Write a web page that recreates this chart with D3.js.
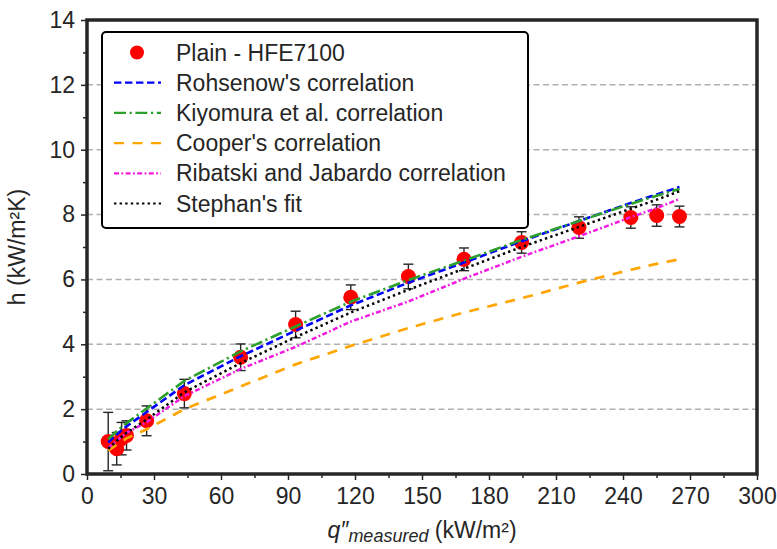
<!DOCTYPE html>
<html>
<head>
<meta charset="utf-8">
<script src="https://cdn.jsdelivr.net/npm/d3@7/dist/d3.min.js"></script>
<style>
  body { margin: 0; background: #fff; }
  text { font-family: "Liberation Sans", Arial, sans-serif; fill: #262626; }
</style>
</head>
<body>
<div id="chart"></div>
<script>
// measured heat flux (kW/m2) and heat transfer coefficient (kW/m2K)
const heatFlux = [9.5, 13.3, 15.5, 17.7, 26.7, 43.6, 68.8, 93.4, 118.1, 143.9, 168.8, 194.6, 220.3, 243.5, 255.1, 265.3];
const hMeasured = [1.0, 0.78, 1.09, 1.19, 1.64, 2.48, 3.6, 4.61, 5.45, 6.09, 6.62, 7.14, 7.6, 7.91, 7.97, 7.94];
const hError = [0.9, 0.5, 0.5, 0.45, 0.46, 0.44, 0.41, 0.41, 0.38, 0.38, 0.35, 0.33, 0.33, 0.33, 0.33, 0.32];

// correlations read at the same heat fluxes
const rohsenow = [0.97, 1.22, 1.35, 1.47, 1.91, 2.74, 3.63, 4.42, 5.2, 5.9, 6.52, 7.18, 7.8, 8.36, 8.62, 8.85];
const kiyomura = [1.07, 1.32, 1.45, 1.57, 2.02, 2.87, 3.78, 4.55, 5.31, 5.98, 6.58, 7.22, 7.8, 8.33, 8.58, 8.79];
const cooper = [0.72, 0.9, 1.0, 1.1, 1.38, 2.0, 2.7, 3.38, 3.95, 4.5, 4.98, 5.42, 5.9, 6.3, 6.48, 6.62];
const ribatski = [0.8, 1.03, 1.15, 1.27, 1.6, 2.4, 3.24, 3.92, 4.7, 5.32, 6.02, 6.7, 7.33, 7.92, 8.2, 8.48];
const stephan = [0.78, 1.02, 1.15, 1.27, 1.68, 2.52, 3.42, 4.22, 4.98, 5.68, 6.33, 7.0, 7.62, 8.18, 8.46, 8.72];

const xTicks = [0, 30, 60, 90, 120, 150, 180, 210, 240, 270, 300];
const yTicks = [0, 2, 4, 6, 8, 10, 12, 14];
const gridValues = [2, 4, 6, 8, 10, 12];

const width = 777, height = 549;
const margin = {top: 20, right: 20, bottom: 75, left: 87};
const w = width - margin.left - margin.right;
const h = height - margin.top - margin.bottom;

const svg = d3.select("#chart")
  .append("svg")
  .attr("width", width)
  .attr("height", height)
  .append("g")
  .attr("transform", `translate(${margin.left},${margin.top})`);

const x = d3.scaleLinear().domain([0, 300]).range([0, w]);
const y = d3.scaleLinear().domain([0, 14]).range([h, 0]);

// grid
svg.selectAll(".grid")
  .data(gridValues)
  .enter().append("line")
  .attr("x1", 0).attr("x2", w)
  .attr("y1", d => y(d)).attr("y2", d => y(d))
  .attr("stroke", "#b0b0b0")
  .attr("stroke-width", 1.5)
  .attr("stroke-dasharray", "6,3.5");

// axes
const xAxis = svg.append("g")
  .attr("transform", `translate(0,${h})`)
  .call(d3.axisBottom(x).tickValues(xTicks).tickSize(6).tickPadding(8));
const xMinor = svg.append("g")
  .attr("transform", `translate(0,${h})`)
  .call(d3.axisBottom(x).tickValues(d3.range(15, 300, 30)).tickSize(4).tickFormat(""));
const yAxis = svg.append("g")
  .call(d3.axisLeft(y).tickValues(yTicks).tickSize(6).tickPadding(6));
const yMinor = svg.append("g")
  .call(d3.axisLeft(y).tickValues(d3.range(1, 14, 2)).tickSize(4).tickFormat(""));

[xAxis, xMinor, yAxis, yMinor].forEach(g => {
  g.select(".domain").remove();
  g.selectAll(".tick line").attr("stroke", "#262626").attr("stroke-width", 1.5);
  g.selectAll(".tick text").style("font-size", "23px").attr("fill", "#262626");
});

// error bars and points
const pts = heatFlux.map((q, i) => ({q: q, h: hMeasured[i], e: hError[i]}));

const err = svg.append("g").attr("stroke", "#262626").attr("stroke-width", 1.4);
err.selectAll(".ebar")
  .data(pts)
  .enter().append("line")
  .attr("x1", d => x(d.q)).attr("x2", d => x(d.q))
  .attr("y1", d => y(d.h - d.e)).attr("y2", d => y(d.h + d.e));
err.selectAll(".capTop")
  .data(pts)
  .enter().append("line")
  .attr("x1", d => x(d.q) - 5).attr("x2", d => x(d.q) + 5)
  .attr("y1", d => y(d.h + d.e)).attr("y2", d => y(d.h + d.e));
err.selectAll(".capBot")
  .data(pts)
  .enter().append("line")
  .attr("x1", d => x(d.q) - 5).attr("x2", d => x(d.q) + 5)
  .attr("y1", d => y(d.h - d.e)).attr("y2", d => y(d.h - d.e));

svg.selectAll(".dot")
  .data(pts)
  .enter().append("circle")
  .attr("cx", d => x(d.q))
  .attr("cy", d => y(d.h))
  .attr("r", 7.5)
  .attr("fill", "#ff0000");

// correlation lines
const series = [
  {name: "Rohsenow's correlation", values: rohsenow, color: "#0000ff", dash: "7.4,3.6", sw: 2.6},
  {name: "Kiyomura et al. correlation", values: kiyomura, color: "#2ca02c", dash: "12,3.6,2.2,3.6", sw: 2.6},
  {name: "Cooper's correlation", values: cooper, color: "#ffa500", dash: "10,8.5", sw: 2.7},
  {name: "Ribatski and Jabardo correlation", values: ribatski, color: "#f01ae0", dash: "5,2.4,1.8,2.4", sw: 2.5},
  {name: "Stephan's fit", values: stephan, color: "#000000", dash: "2.4,3.2", sw: 2.5}
];

const line = d3.line()
  .x((d, i) => x(heatFlux[i]))
  .y(d => y(d));

series.forEach(s => {
  svg.append("path")
    .datum(s.values)
    .attr("fill", "none")
    .attr("stroke", s.color)
    .attr("stroke-width", s.sw)
    .attr("stroke-dasharray", s.dash)
    .attr("d", line);
});

// frame
svg.append("rect")
  .attr("x", 0).attr("y", 0)
  .attr("width", w).attr("height", h)
  .attr("fill", "none")
  .attr("stroke", "#262626")
  .attr("stroke-width", 3.5);

// legend
const legend = svg.append("g").attr("transform", "translate(15,12)");
legend.append("rect")
  .attr("width", 426).attr("height", 196)
  .attr("rx", 4)
  .attr("fill", "#fff")
  .attr("stroke", "#000")
  .attr("stroke-width", 2);

const rowH = 30.2, row0 = 20.5;
legend.append("circle")
  .attr("cx", 35).attr("cy", row0)
  .attr("r", 7)
  .attr("fill", "#ff0000");
legend.append("text")
  .attr("x", 74).attr("y", row0)
  .attr("dy", "0.35em")
  .style("font-size", "23px")
  .text("Plain - HFE7100");

series.forEach((s, i) => {
  const cy = row0 + rowH * (i + 1);
  legend.append("line")
    .attr("x1", 12).attr("x2", 59)
    .attr("y1", cy).attr("y2", cy)
    .attr("stroke", s.color)
    .attr("stroke-width", s.sw - 0.3)
    .attr("stroke-dasharray", s.dash);
  legend.append("text")
    .attr("x", 74).attr("y", cy)
    .attr("dy", "0.35em")
    .style("font-size", "23px")
    .text(s.name);
});

// axis labels
const xl = svg.append("text")
  .attr("text-anchor", "middle")
  .attr("x", w / 2)
  .attr("y", h + 64)
  .style("font-size", "23px");
xl.append("tspan").style("font-style", "italic").text("q\u2033");
xl.append("tspan").style("font-style", "italic").style("font-size", "18px").attr("dy", 4).text("measured");
xl.append("tspan").attr("dy", -4).text(" (kW/m\u00b2)");

svg.append("text")
  .attr("text-anchor", "middle")
  .attr("transform", "rotate(-90)")
  .attr("x", -h / 2)
  .attr("y", -62)
  .style("font-size", "23px")
  .text("h (kW/m\u00b2K)");
</script>
</body>
</html>
